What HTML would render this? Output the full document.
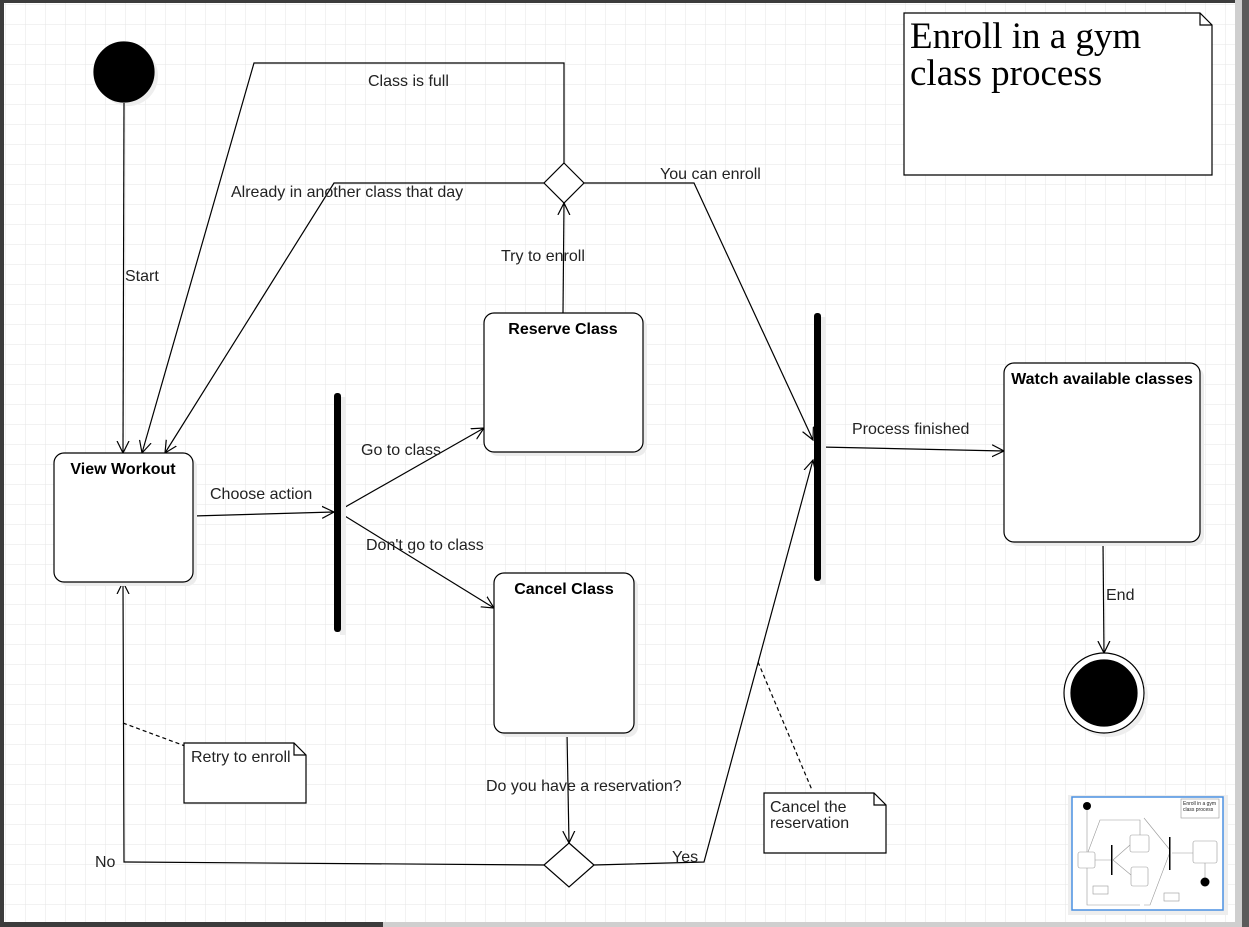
<!DOCTYPE html>
<html><head><style>
html,body{margin:0;padding:0;background:#fff;}
svg{display:block;}
text{font-family:"Liberation Sans",sans-serif;font-size:16px;fill:#222;}
.b{font-weight:bold;fill:#000;}
</style></head><body>
<svg width="1249" height="927" viewBox="0 0 1249 927" xmlns="http://www.w3.org/2000/svg">
<defs>
<pattern id="g" x="5" y="4" width="20" height="20" patternUnits="userSpaceOnUse">
<path d="M0 0H20M0 0V20" stroke="#e6e6e6" stroke-width="1" fill="none"/>
</pattern>
<marker id="a" markerWidth="14" markerHeight="14" refX="12" refY="7" orient="auto" markerUnits="userSpaceOnUse">
<path d="M0 1 L12 7 L0 13" fill="none" stroke="#000" stroke-width="1.2"/>
</marker>
</defs>
<rect width="1249" height="927" fill="#fff"/>
<rect width="1249" height="927" fill="url(#g)"/>
<rect x="0" y="0" width="1249" height="3" fill="#3c3c3c"/>
<rect x="0" y="0" width="4" height="927" fill="#3c3c3c"/>
<rect x="1235" y="0" width="7" height="927" fill="#cfcfcf"/>
<rect x="1242" y="0" width="7" height="927" fill="#5b5b5b"/>
<rect x="0" y="922" width="1235" height="5" fill="#cfcfcf"/>
<rect x="0" y="922" width="383" height="5" fill="#3c3c3c"/>

<g fill="none" stroke="#000" stroke-width="1.2">
<circle cx="128" cy="76" r="30" fill="#eee" stroke="none"/>
<circle cx="124" cy="72" r="30" fill="#000"/>
<path d="M124 103 L123 453" marker-end="url(#a)"/>
<path d="M564 163 L564 63 L254 63 L142 453" marker-end="url(#a)"/>
<path d="M544 183 L334 183 L165 453" marker-end="url(#a)"/>
<path d="M584 183 L694 183 L813 440" marker-end="url(#a)"/>
<path d="M563 313 L564 203" marker-end="url(#a)"/>
<path d="M193 516 L334 512" marker-end="url(#a)"/>
<path d="M340 510 L484 428" marker-end="url(#a)"/>
<path d="M340 513 L494 608" marker-end="url(#a)"/>
<path d="M567 733 L569 843" marker-end="url(#a)"/>
<path d="M544 865 L124 862 L123 582" marker-end="url(#a)"/>
<path d="M594 865 L704 862 L813 460" marker-end="url(#a)"/>
<path d="M820 447 L1004 451" marker-end="url(#a)"/>
<path d="M1103 542 L1104 653" marker-end="url(#a)"/>
<path d="M123 723 L185 746" stroke-dasharray="4 3"/>
<path d="M758 662 L812 790" stroke-dasharray="4 3"/>

<path d="M564 163 L584 183 L564 203 L544 183 Z" fill="#fff"/>
<path d="M569 843 L594 865 L569 887 L544 865 Z" fill="#fff"/>

<rect x="58" y="457" width="139" height="129" rx="10" fill="#ececec" stroke="none"/>
<rect x="488" y="317" width="159" height="139" rx="10" fill="#ececec" stroke="none"/>
<rect x="498" y="577" width="140" height="160" rx="10" fill="#ececec" stroke="none"/>
<rect x="1008" y="367" width="196" height="179" rx="10" fill="#ececec" stroke="none"/>
<rect x="54" y="453" width="139" height="129" rx="10" fill="#fff"/>
<rect x="484" y="313" width="159" height="139" rx="10" fill="#fff"/>
<rect x="494" y="573" width="140" height="160" rx="10" fill="#fff"/>
<rect x="1004" y="363" width="196" height="179" rx="10" fill="#fff"/>

<rect x="340" y="397" width="6" height="238" fill="#eee" stroke="none"/>
<rect x="334" y="393" width="7" height="239" rx="3" fill="#000" stroke="none"/>
<rect x="820" y="317" width="6" height="268" fill="#eee" stroke="none"/>
<rect x="814" y="313" width="7" height="268" rx="3" fill="#000" stroke="none"/>

<circle cx="1108" cy="697" r="40" fill="#eee" stroke="none"/>
<circle cx="1104" cy="693" r="40" fill="#fff"/>
<circle cx="1104" cy="693" r="33" fill="#000"/>

<path d="M184 743 L294 743 L306 755 L306 803 L184 803 Z" fill="#fff"/>
<path d="M294 743 L294 755 L306 755"/>
<path d="M764 793 L874 793 L886 805 L886 853 L764 853 Z" fill="#fff"/>
<path d="M874 793 L874 805 L886 805"/>
<path d="M904 13 L1200 13 L1212 25 L1212 175 L904 175 Z" fill="#fff"/>
<path d="M1200 13 L1200 25 L1212 25"/>
</g>

<text x="368" y="86">Class is full</text>
<text x="231" y="197">Already in another class that day</text>
<text x="660" y="179">You can enroll</text>
<text x="501" y="261">Try to enroll</text>
<text x="125" y="281">Start</text>
<text x="210" y="499">Choose action</text>
<text x="361" y="455">Go to class</text>
<text x="366" y="550">Don't go to class</text>
<text x="852" y="434">Process finished</text>
<text x="1106" y="600">End</text>
<text x="486" y="791">Do you have a reservation?</text>
<text x="95" y="867">No</text>
<text x="672" y="862">Yes</text>
<text x="191" y="762">Retry to enroll</text>
<text x="770" y="812">Cancel the</text>
<text x="770" y="828">reservation</text>
<text class="b" x="123" y="474" text-anchor="middle">View Workout</text>
<text class="b" x="563" y="334" text-anchor="middle">Reserve Class</text>
<text class="b" x="564" y="594" text-anchor="middle">Cancel Class</text>
<text class="b" x="1102" y="384" text-anchor="middle">Watch available classes</text>
<text x="910" y="48" style="font-family:'Liberation Serif',serif;font-size:37px;fill:#000">Enroll in a gym</text>
<text x="910" y="85" style="font-family:'Liberation Serif',serif;font-size:37px;fill:#000">class process</text>

<rect x="1068" y="795" width="160" height="120" fill="#eee"/>
<rect x="1072" y="797" width="151" height="113" fill="#fff" stroke="#4a90e2" stroke-width="1.5"/>
<g stroke="#999" stroke-width="0.6" fill="none">
<rect x="1078" y="852" width="17" height="16" rx="2"/>
<rect x="1130" y="835" width="19" height="17" rx="2"/>
<rect x="1131" y="867" width="17" height="19" rx="2"/>
<rect x="1193" y="841" width="24" height="22" rx="2"/>
<rect x="1181" y="799" width="38" height="19"/>
<rect x="1093" y="886" width="15" height="8"/>
<rect x="1164" y="893" width="15" height="8"/>
<path d="M1087 808 V852 M1140 835 V820 L1100 820 L1088 852 M1144 818 L1170 850 M1095 860 H1111 M1113 860 L1130 845 M1113 860 L1131 875 M1087 868 V905 H1140 M1144 905 H1150 L1170 852 M1172 853 H1193 M1205 863 V878"/>
</g>
<circle cx="1087" cy="806" r="4" fill="#000"/>
<circle cx="1205" cy="882" r="4.5" fill="#000"/>
<rect x="1111" y="845" width="1.5" height="30" fill="#000"/>
<rect x="1169" y="837" width="1.5" height="33" fill="#000"/>
<text x="1183" y="805" style="font-size:5px">Enroll in a gym</text>
<text x="1183" y="811" style="font-size:5px">class process</text>
</svg>
</body></html>
